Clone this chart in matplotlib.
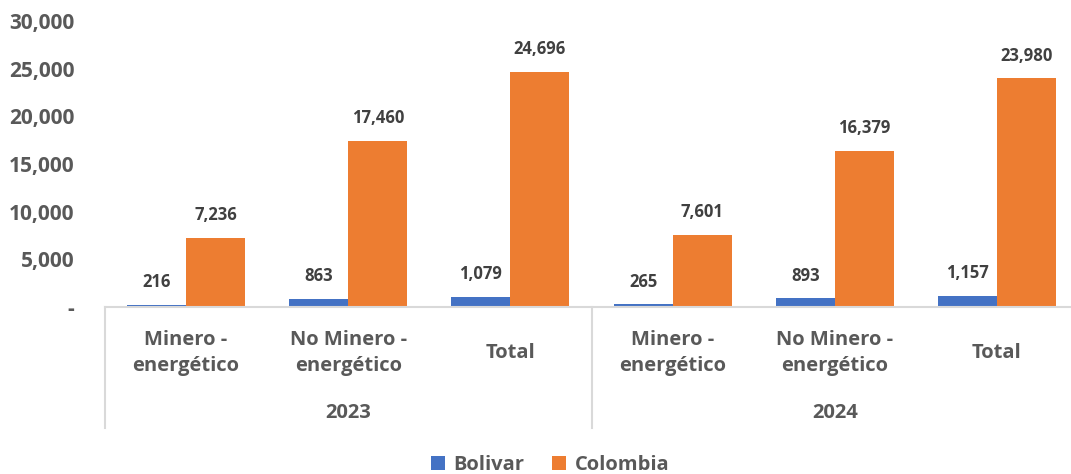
import matplotlib.pyplot as plt
import numpy as np

plt.rcParams['font.family'] = ['Open Sans', 'DejaVu Sans']

years = ['2023', '2024']
categories = ['Minero -\nenergético', 'No Minero -\nenergético', 'Total']
bolivar = [216, 863, 1079, 265, 893, 1157]
colombia = [7236, 17460, 24696, 7601, 16379, 23980]

blue = '#4472C4'
orange = '#ED7D31'
grey_txt = '#595959'
lab_txt = '#404040'
line_col = '#D9D9D9'

W, H = 1071, 474
fig = plt.figure(figsize=(W / 100, H / 100), dpi=100)
ax = fig.add_axes([105 / W, 1 - 307 / H, (1078 - 105) / W, (307 - 21) / H])

x = np.arange(len(bolivar)) + 0.5
bw = 0.364
b1 = ax.bar(x - bw / 2, bolivar, bw, color=blue, label='Bolivar')
b2 = ax.bar(x + bw / 2, colombia, bw, color=orange, label='Colombia')

for bars, vals in [(b1, bolivar), (b2, colombia)]:
    for r, v in zip(bars, vals):
        ax.annotate(f'{v:,}', (r.get_x() + r.get_width() / 2, v),
                    xytext=(0, 10), textcoords='offset points',
                    ha='center', va='bottom', fontsize=12,
                    fontweight='bold', color=lab_txt)

ax.set_xlim(0, 6)
ax.set_ylim(0, 30000)
yt = np.arange(0, 30001, 5000)
ax.set_yticks(yt)
ax.set_yticklabels(['-'] + [f'{v:,}' for v in yt[1:]])
ax.tick_params(axis='y', length=0, pad=22, labelsize=15, labelcolor=grey_txt)
for lbl in ax.get_yticklabels():
    lbl.set_fontweight('bold')
ax.set_xticks([])
for s in ['top', 'right', 'left']:
    ax.spines[s].set_visible(False)
ax.spines['bottom'].set_color(line_col)
ax.spines['bottom'].set_linewidth(1.5)

# multi-level category axis
depth = -(428 - 307) / (307 - 21)
for xs in [0, 3, 6]:
    ax.plot([xs, xs], [0, depth], color=line_col, lw=1.5,
            transform=ax.get_xaxis_transform(), clip_on=False)
for i, xc in enumerate(x):
    ax.text(xc, -(353 - 307) / (307 - 21), categories[i % 3],
            transform=ax.get_xaxis_transform(), ha='center', va='center',
            fontsize=14.5, fontweight='bold', color=grey_txt, linespacing=1.45)
for j, yr in enumerate(years):
    ax.text(1.5 + 3 * j, -(413 - 307) / (307 - 21), yr,
            transform=ax.get_xaxis_transform(), ha='center', va='center',
            fontsize=14.5, fontweight='bold', color=grey_txt)

fig.legend(handles=[b1, b2], loc='center', bbox_to_anchor=(550 / W, 1 - 465 / H),
           ncol=2, frameon=False, handlelength=0.7, handleheight=0.7,
           handletextpad=0.4, columnspacing=1.4,
           prop={'size': 14.5, 'weight': 'bold'}, labelcolor=grey_txt)

fig.savefig('out.png', dpi=100)
